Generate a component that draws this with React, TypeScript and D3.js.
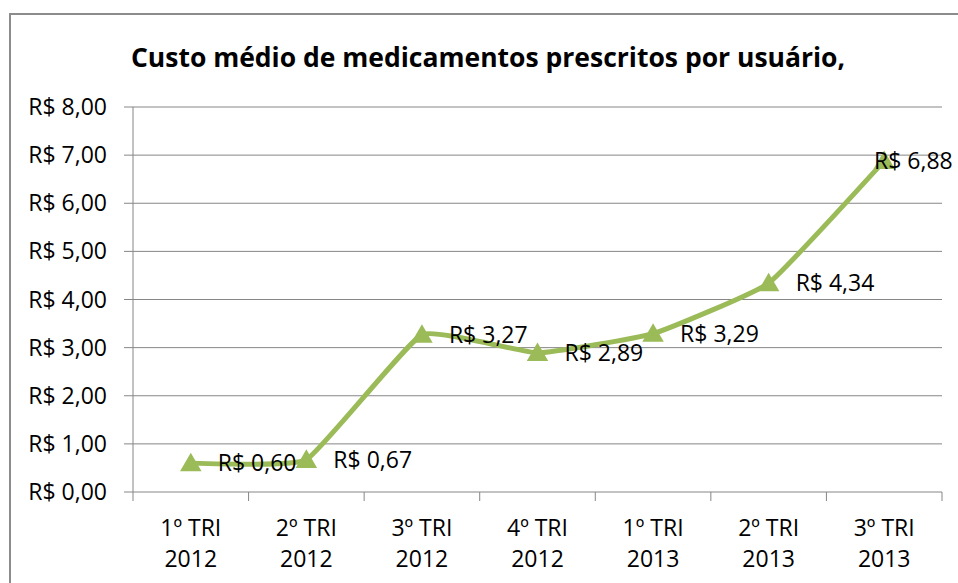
import * as d3 from 'd3';

const categories = ['1º TRI\n2012', '2º TRI\n2012', '3º TRI\n2012', '4º TRI\n2012', '1º TRI\n2013', '2º TRI\n2013', '3º TRI\n2013'];
const costs = [0.6, 0.67, 3.27, 2.89, 3.29, 4.34, 6.88];
const yTicks = [0, 1, 2, 3, 4, 5, 6, 7, 8];
const title = 'Custo médio de medicamentos prescritos por usuário,';

const W = 958;
const H = 583;
const frame = { left: 10, top: 14, right: 966, bottom: 600 };
const plot = { left: 133, right: 942, top: 107, bottom: 492 };
const FONT = '"Open Sans", sans-serif';
const GREEN = '#9BBB59';
const GRID = '#868686';

const brl = (v: number) => 'R$ ' + v.toFixed(2).replace('.', ',');

export default function App() {
  const x = d3.scaleBand<number>()
    .domain(d3.range(categories.length))
    .range([plot.left, plot.right]);
  const y = d3.scaleLinear().domain([0, 8]).range([plot.bottom, plot.top]);
  const cx = (i: number) => (x(i) ?? 0) + x.bandwidth() / 2;

  const line = d3.line<number>()
    .x((_, i) => cx(i))
    .y(d => y(d))
    .curve(d3.curveCardinal.tension(0.65));

  const tri = d3.symbol().type(d3.symbolTriangle).size(200)();

  // labels sit right of the point, pushed back inside the visible area if needed
  const labelW = 82;
  const labelX = (i: number) => Math.min(cx(i) + 27, W - 2 - labelW);

  return (
    <svg width={W} height={H} style={{ position: 'absolute', left: 0, top: 0, display: 'block' }}>
      <rect x={0} y={0} width={W} height={H} fill="#fff" />
      <rect x={frame.left} y={frame.top} width={frame.right - frame.left} height={frame.bottom - frame.top}
        fill="#fff" stroke="#8c8c8c" strokeWidth={2} />

      <text x={(frame.left + frame.right) / 2} y={67} textAnchor="middle" fontFamily={FONT}
        fontWeight="bold" fontSize={26.5} fill="#000">{title}</text>

      {yTicks.map(t => (
        <g key={t}>
          <line x1={plot.left - 9} x2={plot.right} y1={y(t)} y2={y(t)} stroke={GRID} strokeWidth={1} />
          <text x={107} y={y(t)} dy="0.35em" textAnchor="end" fontFamily={FONT} fontSize={23} fill="#000">
            {brl(t)}
          </text>
        </g>
      ))}

      <line x1={plot.left} x2={plot.left} y1={plot.top} y2={plot.bottom} stroke={GRID} strokeWidth={1} />
      {d3.range(categories.length + 1).map(i => {
        const xx = plot.left + i * x.bandwidth();
        return <line key={i} x1={xx} x2={xx} y1={plot.bottom} y2={plot.bottom + 9} stroke={GRID} strokeWidth={1} />;
      })}

      {categories.map((c, i) => (
        <text key={c + i} x={cx(i)} textAnchor="middle" fontFamily={FONT} fontSize={23} fill="#000">
          {c.split('\n').map((part, j) => (
            <tspan key={j} x={cx(i)} y={536 + j * 31}>{part}</tspan>
          ))}
        </text>
      ))}

      <path d={line(costs) ?? ''} fill="none" stroke={GREEN} strokeWidth={5} strokeLinejoin="round" />
      {costs.map((v, i) => (
        <path key={i} d={tri ?? ''} transform={`translate(${cx(i)},${y(v) + 2})`} fill={GREEN} />
      ))}

      {costs.map((v, i) => (
        <text key={i} x={labelX(i)} y={y(v)} dy="0.35em" fontFamily={FONT} fontSize={23} fill="#000">
          {brl(v)}
        </text>
      ))}
    </svg>
  );
}
